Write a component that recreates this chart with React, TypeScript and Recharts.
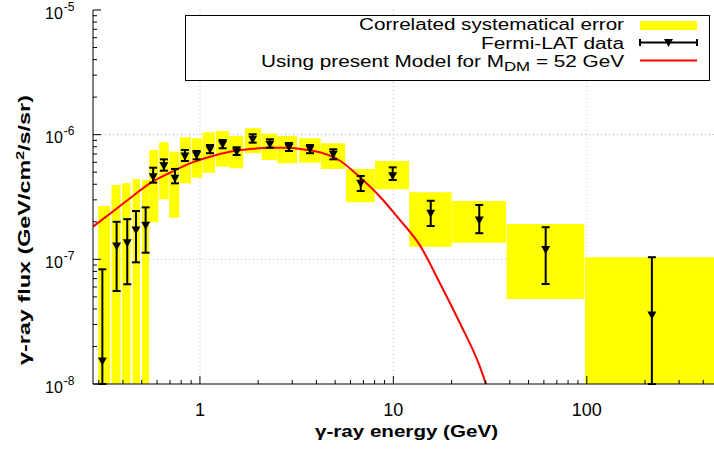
import React from "react";
import {
  CartesianGrid,
  ComposedChart,
  ErrorBar,
  Line,
  ReferenceArea,
  Scatter,
  XAxis,
  YAxis,
} from "recharts";

// Fermi-LAT points: energy (GeV), flux, lower / upper end of the error bar
// (3e-9 = bar runs off the bottom of the plot)
const dataEnergy = [0.313, 0.371, 0.421, 0.467, 0.524, 0.573, 0.651, 0.743, 0.836, 0.961, 1.127, 1.31, 1.548, 1.873, 2.3, 2.885, 3.706, 4.89, 6.78, 9.92, 15.6, 27.8, 61.3, 217];
const dataFlux = [1.53e-8, 1.28e-7, 1.36e-7, 1.72e-7, 1.88e-7, 4.6e-7, 5.64e-7, 4.47e-7, 6.75e-7, 6.87e-7, 7.63e-7, 8.37e-7, 7.3e-7, 9.18e-7, 8.37e-7, 7.92e-7, 7.67e-7, 6.97e-7, 4.07e-7, 4.69e-7, 2.34e-7, 2.07e-7, 1.2e-7, 3.58e-8];
const dataLow = [3e-9, 5.57e-8, 6.31e-8, 9.46e-8, 1.13e-7, 4.12e-7, 5.14e-7, 4.07e-7, 6.15e-7, 6.34e-7, 7.1e-7, 7.78e-7, 6.87e-7, 8.63e-7, 7.87e-7, 7.4e-7, 7.1e-7, 6.34e-7, 3.53e-7, 4.33e-7, 1.85e-7, 1.62e-7, 6.34e-8, 3e-9];
const dataHigh = [8.32e-8, 2.0e-7, 2.1e-7, 2.44e-7, 2.61e-7, 5.43e-7, 6.34e-7, 5.31e-7, 7.54e-7, 7.4e-7, 8.26e-7, 9.06e-7, 7.92e-7, 1.007e-6, 9.18e-7, 8.57e-7, 8.26e-7, 7.63e-7, 4.66e-7, 5.47e-7, 2.95e-7, 2.73e-7, 1.81e-7, 1.04e-7];

// correlated systematic error boxes: energy bin edges and flux range
const boxELo = [0.298, 0.349, 0.396, 0.449, 0.501, 0.547, 0.616, 0.694, 0.788, 0.909, 1.033, 1.21, 1.418, 1.709, 2.085, 2.51, 3.26, 4.225, 5.69, 8.03, 12.08, 20.0, 38.5, 97.9];
const boxEHi = [0.343, 0.389, 0.438, 0.49, 0.545, 0.609, 0.689, 0.782, 0.899, 1.028, 1.196, 1.413, 1.675, 2.068, 2.5, 3.185, 4.21, 5.64, 8.0, 12.04, 20.0, 38.2, 97.1, 500];
const boxFluxLo = [3e-9, 3e-9, 3e-9, 3e-9, 3e-9, 1.98e-7, 3.03e-7, 2.16e-7, 4.07e-7, 4.52e-7, 4.95e-7, 5.53e-7, 5.37e-7, 7.1e-7, 6.27e-7, 5.89e-7, 5.96e-7, 5.31e-7, 2.87e-7, 3.65e-7, 1.26e-7, 1.36e-7, 4.81e-8, 3e-9];
const boxFluxHi = [2.68e-7, 3.95e-7, 4.07e-7, 4.41e-7, 4.33e-7, 7.54e-7, 8.69e-7, 7.3e-7, 9.53e-7, 9.35e-7, 1.045e-6, 1.07e-6, 9.75e-7, 1.125e-6, 1.02e-6, 9.75e-7, 9.35e-7, 8.53e-7, 5.31e-7, 6.15e-7, 3.45e-7, 2.94e-7, 1.92e-7, 1.04e-7];

// model curve, M_DM = 52 GeV
const modelEnergy = [0.28, 0.355, 0.435, 0.551, 0.7, 0.888, 1.127, 1.429, 1.814, 2.3, 2.92, 3.29, 4.17, 5.3, 6.72, 8.53, 10.8, 13.7, 17.4, 22.1, 28.0, 30.1];
const modelFlux = [1.83e-7, 2.42e-7, 3.09e-7, 4.07e-7, 4.95e-7, 5.89e-7, 6.66e-7, 7.3e-7, 7.67e-7, 7.86e-7, 7.86e-7, 7.67e-7, 7.22e-7, 6.18e-7, 4.55e-7, 3.18e-7, 2.07e-7, 1.3e-7, 6.43e-8, 3.07e-8, 1.38e-8, 1.0e-8];

const X_DOMAIN = [0.28, 500];
const Y_DOMAIN = [1e-8, 1e-5];

const xTicks = [0.3, 0.4, 0.5, 0.6, 0.7, 0.8, 0.9, 1, 2, 3, 4, 5, 6, 7, 8, 9, 10, 20, 30, 40, 50, 60, 70, 80, 90, 100, 200, 300, 400, 500];
const yTicks = [
  1e-8, 2e-8, 3e-8, 4e-8, 5e-8, 6e-8, 7e-8, 8e-8, 9e-8,
  1e-7, 2e-7, 3e-7, 4e-7, 5e-7, 6e-7, 7e-7, 8e-7, 9e-7,
  1e-6, 2e-6, 3e-6, 4e-6, 5e-6, 6e-6, 7e-6, 8e-6, 9e-6, 1e-5,
];
const xGridValues = [1, 10, 100];
const yGridValues = [1e-7, 1e-6];

// layout
const CHART_W = 740;
const CHART_H = 449;
const PLOT_LEFT = 93;
const PLOT_TOP = 10;
const PLOT_BOTTOM = 384;
const FONT = "'Liberation Sans', Arial, Helvetica, sans-serif";

const clampY = (v: number) => Math.max(v, Y_DOMAIN[0]);

const points = dataEnergy.map((e, i) => {
  const lo = clampY(dataLow[i]);
  return { e, flux: dataFlux[i], err: [dataFlux[i] - lo, dataHigh[i] - dataFlux[i]] };
});
const model = modelEnergy.map((e, i) => ({ e, flux: modelFlux[i] }));

const isMajor = (v: number) => Math.abs(Math.log10(v) - Math.round(Math.log10(v))) < 1e-6;

function TriangleDown(props: any) {
  const { cx, cy } = props;
  if (cx == null || cy == null) return null;
  return <polygon points={`${cx - 4.5},${cy - 3.5} ${cx + 4.5},${cy - 3.5} ${cx},${cy + 4.5}`} fill="#000" />;
}

function XTick(props: any) {
  const { x, payload, side } = props;
  const v = payload.value;
  const major = isMajor(v);
  const len = major ? 8 : 4;
  if (side === "top") {
    return <line x1={x} x2={x} y1={PLOT_TOP} y2={PLOT_TOP + len} stroke="#000" />;
  }
  return (
    <g>
      <line x1={x} x2={x} y1={PLOT_BOTTOM} y2={PLOT_BOTTOM - len} stroke="#000" />
      {major && (
        <text x={x} y={416} textAnchor="middle" fontSize={18} fill="#000">
          {String(v)}
        </text>
      )}
    </g>
  );
}

function YTick(props: any) {
  const { y, payload } = props;
  const v = payload.value;
  const major = isMajor(v);
  const len = major ? 8 : 4;
  return (
    <g>
      <line x1={PLOT_LEFT} x2={PLOT_LEFT + len} y1={y} y2={y} stroke="#000" />
      {major && (
        <text x={45} y={y + 8.5} fontSize={16} fill="#000">
          10
          <tspan dx={1} dy={-8} fontSize={12}>
            {String(Math.round(Math.log10(v)))}
          </tspan>
        </text>
      )}
    </g>
  );
}

function Overlay() {
  return (
    <svg width={714} height={449} style={{ position: "absolute", left: 0, top: 0, pointerEvents: "none" }}>
      <g fontFamily={FONT} fill="#000">
        <rect x={185.5} y={15.5} width={524} height={65} fill="#fff" stroke="#000" strokeWidth={1} />
        <text x={359} y={30} fontSize={16} textLength={265} lengthAdjust="spacingAndGlyphs">
          Correlated systematical error
        </text>
        <rect x={640} y={21} width={57} height={9} fill="#ffff00" />
        <text x={481} y={48.7} fontSize={16} textLength={143} lengthAdjust="spacingAndGlyphs">
          Fermi-LAT data
        </text>
        <line x1={640} x2={697} y1={42.5} y2={42.5} stroke="#000" strokeWidth={2} />
        <line x1={640} x2={640} y1={39} y2={46} stroke="#000" strokeWidth={2} />
        <line x1={697} x2={697} y1={39} y2={46} stroke="#000" strokeWidth={2} />
        <TriangleDown cx={668.5} cy={42.5} />
        <text x={261} y={67} fontSize={16} textLength={363} lengthAdjust="spacingAndGlyphs">
          Using present Model for M
          <tspan dy={4} fontSize={13}>DM</tspan>
          <tspan dy={-4}> = 52 GeV</tspan>
        </text>
        <line x1={640} x2={697} y1={60.5} y2={60.5} stroke="#ff0000" strokeWidth={2} />

        <text x={406.5} y={436.5} fontSize={16} fontWeight="bold" textAnchor="middle" textLength={183} lengthAdjust="spacingAndGlyphs">
          γ-ray energy (GeV)
        </text>
        <text
          x={0}
          y={0}
          transform="translate(30, 230) rotate(-90)"
          fontSize={16}
          fontWeight="bold"
          textAnchor="middle"
          textLength={270}
          lengthAdjust="spacingAndGlyphs"
        >
          γ-ray flux (GeV/cm
          <tspan dy={-6} fontSize={11}>2</tspan>
          <tspan dy={6}>/s/sr)</tspan>
        </text>
      </g>
    </svg>
  );
}

export default function App() {
  return (
    <div
      style={{
        position: "fixed",
        left: 0,
        top: 0,
        width: 714,
        height: 449,
        overflow: "hidden",
        background: "#fff",
        fontFamily: FONT,
      }}
    >
      <ComposedChart width={CHART_W} height={CHART_H} margin={{ top: PLOT_TOP, right: CHART_W - 722, bottom: 0, left: 0 }}>
        <CartesianGrid
          stroke="#b4b4b4"
          strokeDasharray="1 3"
          horizontalValues={yGridValues}
          verticalValues={xGridValues}
        />
        <XAxis
          dataKey="e"
          type="number"
          scale="log"
          domain={X_DOMAIN}
          allowDataOverflow
          ticks={xTicks}
          interval={0}
          height={CHART_H - PLOT_BOTTOM}
          tickLine={false}
          axisLine={{ stroke: "#000" }}
          tick={(p: any) => <XTick {...p} side="bottom" />}
        />
        <XAxis
          xAxisId="top"
          orientation="top"
          dataKey="e"
          type="number"
          scale="log"
          domain={X_DOMAIN}
          allowDataOverflow
          ticks={xTicks}
          interval={0}
          height={0}
          tickLine={false}
          axisLine={{ stroke: "#000" }}
          tick={(p: any) => <XTick {...p} side="top" />}
        />
        <YAxis
          dataKey="flux"
          type="number"
          scale="log"
          domain={Y_DOMAIN}
          allowDataOverflow
          ticks={yTicks}
          interval={0}
          width={PLOT_LEFT}
          tickLine={false}
          axisLine={{ stroke: "#000" }}
          tick={(p: any) => <YTick {...p} />}
        />
        {boxELo.map((lo, i) => (
          <ReferenceArea
            key={i}
            x1={lo}
            x2={boxEHi[i]}
            y1={clampY(boxFluxLo[i])}
            y2={boxFluxHi[i]}
            fill="#ffff00"
            fillOpacity={1}
            stroke="none"
            ifOverflow="hidden"
          />
        ))}
        <Line
          data={model}
          dataKey="flux"
          type="monotone"
          stroke="#ff0000"
          strokeWidth={2}
          dot={false}
          activeDot={false}
          isAnimationActive={false}
        />
        <Scatter data={points} dataKey="flux" shape={TriangleDown} isAnimationActive={false}>
          <ErrorBar dataKey="err" direction="y" width={4} stroke="#000" strokeWidth={2} isAnimationActive={false} />
        </Scatter>
      </ComposedChart>
      <Overlay />
    </div>
  );
}
